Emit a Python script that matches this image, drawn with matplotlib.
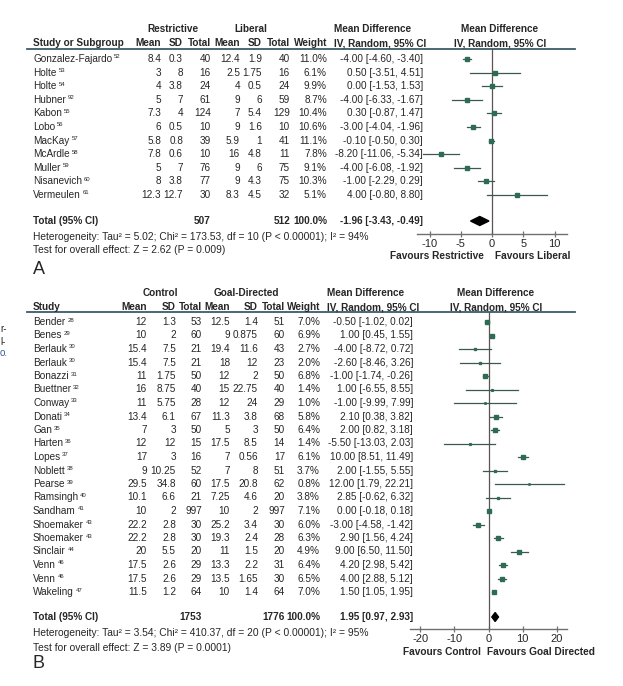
"""Forest plots: restrictive vs liberal and control vs goal-directed fluids."""

from __future__ import annotations

import math

import matplotlib

matplotlib.use("Agg")

import matplotlib.pyplot as plt

# Panel A: restrictive vs liberal
STUDIES_A = [
    "Gonzalez-Fajardo", "Holte", "Holte", "Hubner", "Kabon", "Lobo",
    "MacKay", "McArdle", "Muller", "Nisanevich", "Vermeulen",
]
REFS_A = ["52", "53", "54", "92", "55", "56", "57", "58", "59", "60", "61"]
RESTR_MEAN = [8.4, 3, 4, 5, 7.3, 6, 5.8, 7.8, 5, 8, 12.3]
RESTR_SD = [0.3, 8, 3.8, 7, 4, 0.5, 0.8, 0.6, 7, 3.8, 12.7]
RESTR_N = [40, 16, 24, 61, 124, 10, 39, 10, 76, 77, 30]
LIB_MEAN = [12.4, 2.5, 4, 9, 7, 9, 5.9, 16, 9, 9, 8.3]
LIB_SD = [1.9, 1.75, 0.5, 6, 5.4, 1.6, 1, 4.8, 6, 4.3, 4.5]
LIB_N = [40, 16, 24, 59, 129, 10, 41, 11, 75, 75, 32]
WEIGHT_A = [11.0, 6.1, 9.9, 8.7, 10.4, 10.6, 11.1, 7.8, 9.1, 10.3, 5.1]
MD_A = [-4.00, 0.50, 0.00, -4.00, 0.30, -3.00, -0.10, -8.20, -4.00, -1.00, 4.00]
LO_A = [-4.60, -3.51, -1.53, -6.33, -0.87, -4.04, -0.50, -11.06, -6.08, -2.29, -0.80]
HI_A = [-3.40, 4.51, 1.53, -1.67, 1.47, -1.96, 0.30, -5.34, -1.92, 0.29, 8.80]
TOTAL_N_A = [507, 512]
TOTAL_A = [-1.96, -3.43, -0.49]
HET_A = "Heterogeneity: Tau\u00b2 = 5.02; Chi\u00b2 = 173.53, df = 10 (P < 0.00001); I\u00b2 = 94%"
TEST_A = "Test for overall effect: Z = 2.62 (P = 0.009)"
TICKS_A = [-10, -5, 0, 5, 10]

# Panel B: control vs goal-directed
STUDIES_B = [
    "Bender", "Benes", "Berlauk", "Berlauk", "Bonazzi", "Buettner", "Conway",
    "Donati", "Gan", "Harten", "Lopes", "Noblett", "Pearse", "Ramsingh",
    "Sandham", "Shoemaker", "Shoemaker", "Sinclair", "Venn", "Venn", "Wakeling",
]
REFS_B = [
    "28", "29", "30", "30", "31", "32", "33", "34", "35", "36", "37",
    "38", "39", "40", "41", "43", "43", "44", "46", "46", "47",
]
CTRL_MEAN = [12, 10, 15.4, 15.4, 11, 16, 11, 13.4, 7, 12, 17, 9, 29.5, 10.1, 10,
             22.2, 22.2, 20, 17.5, 17.5, 11.5]
CTRL_SD = [1.3, 2, 7.5, 7.5, 1.75, 8.75, 5.75, 6.1, 3, 12, 3, 10.25, 34.8, 6.6, 2,
           2.8, 2.8, 5.5, 2.6, 2.6, 1.2]
CTRL_N = [53, 60, 21, 21, 50, 40, 28, 67, 50, 15, 16, 52, 60, 21, 997, 30, 30, 20,
          29, 29, 64]
GD_MEAN = [12.5, 9, 19.4, 18, 12, 15, 12, 11.3, 5, 17.5, 7, 7, 17.5, 7.25, 10,
           25.2, 19.3, 11, 13.3, 13.5, 10]
GD_SD = [1.4, 0.875, 11.6, 12, 2, 22.75, 24, 3.8, 3, 8.5, 0.56, 8, 20.8, 4.6, 2,
         3.4, 2.4, 1.5, 2.2, 1.65, 1.4]
GD_N = [51, 60, 43, 23, 50, 40, 29, 68, 50, 14, 17, 51, 62, 20, 997, 30, 28, 20,
        31, 30, 64]
WEIGHT_B = [7.0, 6.9, 2.7, 2.0, 6.8, 1.4, 1.0, 5.8, 6.4, 1.4, 6.1, 3.7, 0.8, 3.8,
            7.1, 6.0, 6.3, 4.9, 6.4, 6.5, 7.0]
MD_B = [-0.50, 1.00, -4.00, -2.60, -1.00, 1.00, -1.00, 2.10, 2.00, -5.50, 10.00,
        2.00, 12.00, 2.85, 0.00, -3.00, 2.90, 9.00, 4.20, 4.00, 1.50]
LO_B = [-1.02, 0.45, -8.72, -8.46, -1.74, -6.55, -9.99, 0.38, 0.82, -13.03, 8.51,
        -1.55, 1.79, -0.62, -0.18, -4.58, 1.56, 6.50, 2.98, 2.88, 1.05]
HI_B = [0.02, 1.55, 0.72, 3.26, -0.26, 8.55, 7.99, 3.82, 3.18, 2.03, 11.49,
        5.55, 22.21, 6.32, 0.18, -1.42, 4.24, 11.50, 5.42, 5.12, 1.95]
TOTAL_N_B = [1753, 1776]
TOTAL_B = [1.95, 0.97, 2.93]
HET_B = "Heterogeneity: Tau\u00b2 = 3.54; Chi\u00b2 = 410.37, df = 20 (P < 0.00001); I\u00b2 = 95%"
TEST_B = "Test for overall effect: Z = 3.89 (P = 0.0001)"
TICKS_B = [-20, -10, 0, 10, 20]

FIG_W = 623
FIG_H = 686
TEXT_COLOR = "#262626"
LINE_COLOR = "#3b5852"
BOX_COLOR = "#2e6b53"
RULE_COLOR = "#3d5c66"
ZERO_COLOR = "#5e5252"
FONT_SIZE = 7.2

plt.rcParams["font.family"] = ["Liberation Sans", "DejaVu Sans"]
plt.rcParams["axes.unicode_minus"] = False


def fmt(value: float) -> str:
    """Format a table value the way it is printed."""

    return f"{value:g}"


def ci_text(md: float, lo: float, hi: float) -> str:
    """Format an effect with its confidence interval."""

    return f"{md:.2f} [{lo:.2f}, {hi:.2f}]"


def add_axes_px(figure, left, top, right, bottom):
    """Add axes placed in pixel coordinates (origin top left)."""

    return figure.add_axes([
        left / FIG_W,
        1 - bottom / FIG_H,
        (right - left) / FIG_W,
        (bottom - top) / FIG_H,
    ])


def put(bg, x, y, text, ha="right", bold=False, size=FONT_SIZE, color=TEXT_COLOR):
    """Write one piece of text on the background axes."""

    return bg.text(
        x, y, text,
        ha=ha, va="center",
        fontsize=size,
        fontweight="bold" if bold else "normal",
        color=color,
    )


def draw_panel(figure, bg, data, lay):
    """Draw a table + forest plot panel."""

    cols = lay["cols"]
    rows_y = [
        lay["first_row"] + lay["row_step"] * i
        for i in range(len(data["studies"]))
    ]

    # headers
    gy = lay["group_y"]
    hy = lay["header_y"]
    put(bg, lay["group1_x"], gy, data["group1"], ha="center", bold=True)
    put(bg, lay["group2_x"], gy, data["group2"], ha="center", bold=True)
    put(bg, lay["md_x"], gy, "Mean Difference", ha="left", bold=True)
    put(bg, lay["md_x"], hy, "IV, Random, 95% CI", ha="left", bold=True)
    put(bg, lay["plot_x"], gy, "Mean Difference", ha="center", bold=True)
    put(bg, lay["plot_x"], hy, "IV, Random, 95% CI", ha="center", bold=True)
    put(bg, 33, hy, data["study_head"], ha="left", bold=True)
    heads = ["Mean", "SD", "Total", "Mean", "SD", "Total", "Weight"]
    for x, label in zip(cols[:7], heads):
        put(bg, x, hy, label, bold=True)

    bg.plot([27, 575], [lay["rule_y"]] * 2, color=RULE_COLOR, lw=1.3)

    # study rows
    for i, y in enumerate(rows_y):
        name = put(bg, 33, y, data["studies"][i], ha="left")
        bg.annotate(
            data["refs"][i],
            xy=(1, 0.95), xycoords=name,
            xytext=(1.5, 0), textcoords="offset points",
            fontsize=4.3, color=TEXT_COLOR, ha="left", va="top",
        )
        values = [
            fmt(data["m1"][i]), fmt(data["sd1"][i]), str(data["n1"][i]),
            fmt(data["m2"][i]), fmt(data["sd2"][i]), str(data["n2"][i]),
            f"{data['weight'][i]:.1f}%",
            ci_text(data["md"][i], data["lo"][i], data["hi"][i]),
        ]
        for x, value in zip(cols, values):
            put(bg, x, y, value)

    # total row and stats
    ty = lay["total_y"]
    put(bg, 33, ty, "Total (95% CI)", ha="left", bold=True)
    put(bg, cols[2], ty, str(data["total_n"][0]), bold=True)
    put(bg, cols[5], ty, str(data["total_n"][1]), bold=True)
    put(bg, cols[6], ty, "100.0%", bold=True)
    put(bg, cols[7], ty, ci_text(*data["total"]), bold=True)
    put(bg, 33, lay["het_y"], data["het"], ha="left", size=7.4)
    put(bg, 33, lay["test_y"], data["test"], ha="left", size=7.4)
    put(bg, 33, lay["letter_y"], data["letter"], ha="left", size=13)

    # forest plot
    ax = add_axes_px(figure, lay["ax_left"], lay["rule_y"], lay["ax_right"], lay["axis_y"])
    ax.set_xlim(*lay["xlim"])
    ax.set_ylim(lay["axis_y"], lay["rule_y"])
    ax.patch.set_alpha(0)
    for side in ["top", "left", "right"]:
        ax.spines[side].set_visible(False)
    ax.spines["bottom"].set_color("#707070")
    ax.spines["bottom"].set_linewidth(1.0)
    ax.set_yticks([])
    ax.set_xticks(data["ticks"])
    ax.set_xticklabels([str(t) for t in data["ticks"]])
    ax.tick_params(
        axis="x", direction="inout", length=5, width=0.9,
        color="#707070", labelsize=8, labelcolor=TEXT_COLOR, pad=1,
    )
    ax.axvline(0, color=ZERO_COLOR, lw=0.9)

    for i, y in enumerate(rows_y):
        ax.plot(
            [data["lo"][i], data["hi"][i]], [y, y],
            color=LINE_COLOR, lw=0.9, clip_on=False,
        )
        side = 1.5 * math.sqrt(data["weight"][i])
        ax.plot(
            data["md"][i], y,
            marker="s", ms=side * 0.72, color=BOX_COLOR,
            mec=BOX_COLOR, clip_on=False,
        )

    md, lo, hi = data["total"]
    ax.fill(
        [lo, md, hi, md], [ty, ty - 4.5, ty, ty + 4.5],
        color="black", clip_on=False,
    )

    fy = lay["favours_y"]
    put(bg, lay["fav_left_x"], fy, data["fav_left"], ha="right", bold=True, size=7.3)
    put(bg, lay["fav_right_x"], fy, data["fav_right"], ha="left", bold=True, size=7.3)


def main() -> None:
    """Build both panels and save the figure."""

    figure = plt.figure(figsize=(FIG_W / 100, FIG_H / 100), dpi=100)
    bg = figure.add_axes([0, 0, 1, 1])
    bg.set_xlim(0, FIG_W)
    bg.set_ylim(FIG_H, 0)
    bg.axis("off")

    panel_a = {
        "studies": STUDIES_A, "refs": REFS_A,
        "m1": RESTR_MEAN, "sd1": RESTR_SD, "n1": RESTR_N,
        "m2": LIB_MEAN, "sd2": LIB_SD, "n2": LIB_N,
        "weight": WEIGHT_A, "md": MD_A, "lo": LO_A, "hi": HI_A,
        "total_n": TOTAL_N_A, "total": TOTAL_A,
        "het": HET_A, "test": TEST_A, "ticks": TICKS_A,
        "group1": "Restrictive", "group2": "Liberal",
        "study_head": "Study or Subgroup", "letter": "A",
        "fav_left": "Favours Restrictive", "fav_right": "Favours Liberal",
    }
    layout_a = {
        "cols": [161, 183, 211, 240, 262, 290, 327, 423],
        "group_y": 29, "header_y": 43, "rule_y": 49,
        "first_row": 59, "row_step": 13.6,
        "total_y": 221, "het_y": 237, "test_y": 250, "letter_y": 270,
        "group1_x": 173, "group2_x": 251, "md_x": 334, "plot_x": 500,
        "ax_left": 417, "ax_right": 567, "axis_y": 234, "xlim": (-12, 12),
        "favours_y": 256, "fav_left_x": 484, "fav_right_x": 495,
    }
    draw_panel(figure, bg, panel_a, layout_a)

    panel_b = {
        "studies": STUDIES_B, "refs": REFS_B,
        "m1": CTRL_MEAN, "sd1": CTRL_SD, "n1": CTRL_N,
        "m2": GD_MEAN, "sd2": GD_SD, "n2": GD_N,
        "weight": WEIGHT_B, "md": MD_B, "lo": LO_B, "hi": HI_B,
        "total_n": TOTAL_N_B, "total": TOTAL_B,
        "het": HET_B, "test": TEST_B, "ticks": TICKS_B,
        "group1": "Control", "group2": "Goal-Directed",
        "study_head": "Study", "letter": "B",
        "fav_left": "Favours Control", "fav_right": "Favours Goal Directed",
    }
    layout_b = {
        "cols": [147, 176, 202, 230, 258, 285, 320, 413],
        "group_y": 293, "header_y": 307, "rule_y": 312,
        "first_row": 322, "row_step": 13.5,
        "total_y": 617, "het_y": 633, "test_y": 648, "letter_y": 664,
        "group1_x": 160, "group2_x": 246, "md_x": 327, "plot_x": 496,
        "ax_left": 410, "ax_right": 567, "axis_y": 629, "xlim": (-23, 23),
        "favours_y": 652, "fav_left_x": 481, "fav_right_x": 487,
    }
    draw_panel(figure, bg, panel_b, layout_b)

    # cropped fragments of a neighbouring figure at the left edge
    put(bg, 0, 329, "r-", ha="left", size=7)
    put(bg, 0, 342, "l-", ha="left", size=7)
    put(bg, 0, 353, "o.", ha="left", size=7, color="#3a5a9a")

    figure.savefig("out.png", dpi=100)
    plt.close(figure)


if __name__ == "__main__":
    main()
